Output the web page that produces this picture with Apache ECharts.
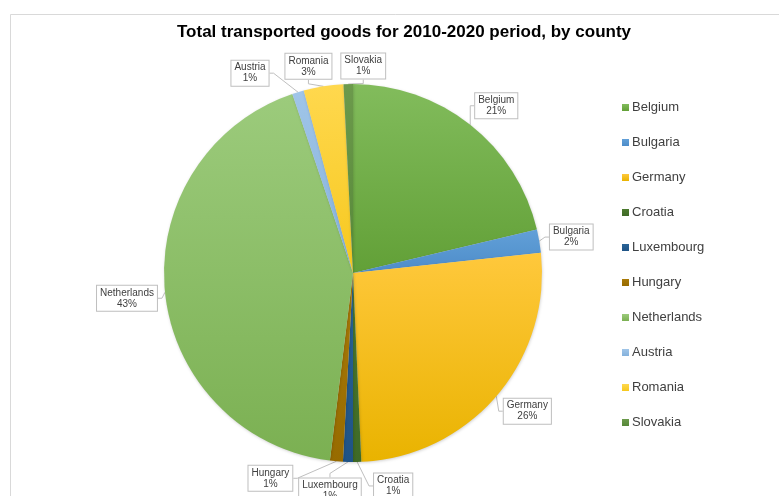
<!DOCTYPE html>
<html>
<head>
<meta charset="utf-8">
<style>
  html, body { margin: 0; padding: 0; background: #fff; }
  #chart { width: 779px; height: 496px; }
</style>
<script src="https://cdn.jsdelivr.net/npm/echarts@6/dist/echarts.min.js"></script>
</head>
<body>
<div id="chart"></div>
<script>
// Share of total transported goods, 2010-2020 (percent)
const countries = ['Belgium', 'Bulgaria', 'Germany', 'Croatia', 'Luxembourg',
                   'Hungary', 'Netherlands', 'Austria', 'Romania', 'Slovakia'];
const shares = [21.3, 2.0, 26.0, 0.7, 0.85, 1.1, 42.85, 1.0, 3.4, 0.8];

// Slice fills: top and bottom stops of each vertical gradient
const topColors = ['#82bc5c', '#62a0d8', '#ffc83c', '#4c7a2e', '#2a6497',
                   '#a97a08', '#9ccb7c', '#a0c5e8', '#ffd84e', '#6c9a4c'];
const bottomColors = ['#62a037', '#4d8cc9', '#e9b300', '#3f6a27', '#1f5386',
                      '#976b00', '#7bb052', '#84b1dc', '#f6c81e', '#568838'];

// Callout box placement relative to the rim point at each slice's mid-angle
const calloutOffsets = [[26, -19], [32, -4], [31, 15], [36, 24], [-18, 29],
                        [-66, 17], [-38, 6], [-48, -19], [-15, -20], [15, -18]];

const FONT = '"Liberation Sans", Arial, sans-serif';

const chart = echarts.init(document.getElementById('chart'), null, { renderer: 'canvas' });

const pieData = countries.map((name, i) => ({
  name: name,
  value: shares[i],
  itemStyle: {
    color: new echarts.graphic.LinearGradient(0, 0, 0, 1, [
      { offset: 0, color: topColors[i] },
      { offset: 1, color: bottomColors[i] }
    ])
  }
}));

chart.setOption({
  animation: false,
  backgroundColor: '#ffffff',
  graphic: [{
    type: 'rect',
    shape: { x: 10.5, y: 14.5, width: 900, height: 600 },
    style: { fill: 'none', stroke: '#d9d9d9', lineWidth: 1 },
    silent: true,
    z: -1
  }],
  title: {
    text: 'Total transported goods for 2010-2020 period, by county',
    left: 399,
    top: 19,
    textAlign: 'center',
    textStyle: {
      fontFamily: FONT,
      fontSize: 17,
      fontWeight: 'bold',
      color: '#000000'
    }
  },
  legend: {
    orient: 'vertical',
    left: 617,
    top: 95,
    icon: 'rect',
    itemWidth: 7,
    itemHeight: 7,
    itemGap: 20,
    data: countries,
    textStyle: {
      fontFamily: FONT,
      fontSize: 13,
      lineHeight: 15,
      color: '#404040',
      padding: [0, 0, 0, -2]
    }
  },
  series: [{
    type: 'pie',
    center: [353, 273],
    radius: 189,
    startAngle: 90,
    clockwise: true,
    avoidLabelOverlap: false,
    data: pieData,
    itemStyle: {
      borderWidth: 0,
      shadowBlur: 3,
      shadowColor: 'rgba(0,0,0,0.18)',
      shadowOffsetX: 0.5,
      shadowOffsetY: 1
    },
    label: {
      show: true,
      position: 'outside',
      formatter: p => p.name + '\n' + Math.round(p.percent) + '%',
      fontFamily: FONT,
      fontSize: 10,
      lineHeight: 11,
      color: '#404040',
      align: 'center',
      backgroundColor: '#ffffff',
      borderColor: '#bfbfbf',
      borderWidth: 1,
      padding: [2, 3, 1, 3]
    },
    labelLine: {
      show: true,
      length: 6,
      length2: 4,
      lineStyle: { color: '#bfbfbf', width: 1 }
    },
    labelLayout: function (params) {
      const rim = params.labelLinePoints && params.labelLinePoints[0];
      if (!rim) return {};
      const off = calloutOffsets[params.dataIndex];
      return {
        x: rim[0] + off[0],
        y: rim[1] + off[1],
        align: 'center',
        verticalAlign: 'middle'
      };
    },
    emphasis: { disabled: true }
  }]
});
</script>
</body>
</html>
